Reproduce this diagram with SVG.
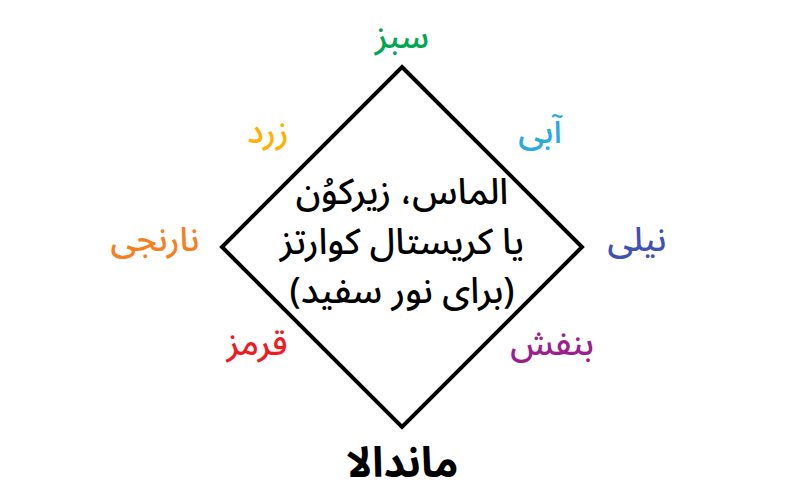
<svg xmlns="http://www.w3.org/2000/svg" width="800" height="500" viewBox="0 0 800 500">
<style>
text{font-family:"Noto Sans Arabic","Noto Sans","DejaVu Sans",sans-serif;text-anchor:middle;direction:rtl}
.lbl{font-size:34px;font-weight:500}
.ctr{font-size:36px;font-weight:500;fill:#000}
.ttl{font-size:42px;font-weight:bold;fill:#000}
</style>
<rect width="800" height="500" fill="#fff"/>
<g id="connectors">
<polygon points="402,67 582,247 402,427 222,247" fill="none" stroke="#000" stroke-width="4"/>
</g>
<g id="center"><text class="ctr" x="402" y="204">الماس، زیرکوُن</text><text class="ctr" x="402" y="254">یا کریستال کوارتز</text><text class="ctr" x="402" y="303">(برای نور سفید)</text></g>
<g id="green"><text class="lbl" x="402" y="48" fill="#00a651">سبز</text></g>
<g id="yellow"><text class="lbl" x="268" y="143" fill="#ffb000">زرد</text></g>
<g id="blue"><text class="lbl" x="540" y="143" fill="#29abe2">آبی</text></g>
<g id="orange"><text class="lbl" x="155" y="251" fill="#f7801e">نارنجی</text></g>
<g id="indigo"><text class="lbl" x="637" y="251" fill="#3f51b5">نیلی</text></g>
<g id="red"><text class="lbl" x="257" y="355" fill="#ed1c24">قرمز</text></g>
<g id="violet"><text class="lbl" x="552" y="355" fill="#9c1f8f">بنفش</text></g>
<g id="title"><text class="ttl" x="402" y="477">ماندالا</text></g>
</svg>
